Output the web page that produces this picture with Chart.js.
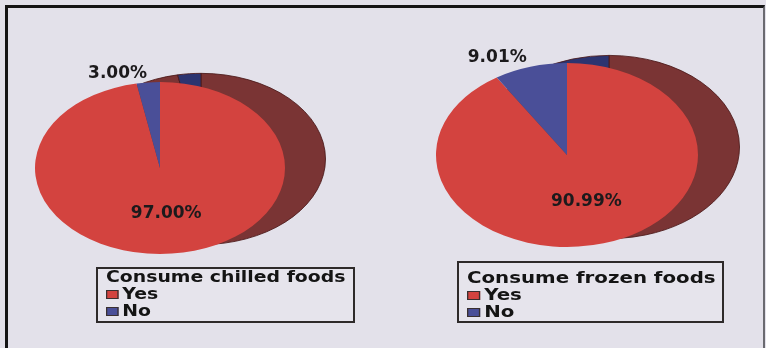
<!DOCTYPE html>
<html>
<head>
<meta charset="utf-8">
<script src="https://cdn.jsdelivr.net/npm/chart.js@4"></script>
<style>
  html, body { margin: 0; padding: 0; }
  body { width: 766px; height: 348px; background: #e3e1ea; position: relative; overflow: hidden; }
  .frame { position: absolute; left: 5px; top: 5px; width: 760px; height: 400px; box-sizing: border-box;
           border-top: 3px solid #151515; border-left: 3px solid #151515; border-right: 2px solid #6a6a70; }
  canvas { position: absolute; }
  .legend { position: absolute; box-sizing: border-box; border: 2px solid #2e2a2a; background: #e6e4ec;
            font-family: "DejaVu Sans", sans-serif; font-weight: bold; font-size: 15px; color: #141414;
            line-height: 17px; padding-left: 8px; white-space: nowrap; }
  .legend .row { transform-origin: left center; }
  .legend .swatch { display: inline-block; width: 8px; height: 7px; border: 1px solid #3a3030; margin-right: 3px;
                    vertical-align: 0px; }
</style>
</head>
<body>
<div class="frame"></div>
<canvas id="chilledBack" width="270" height="270"></canvas>
<canvas id="chilledFront" width="270" height="270"></canvas>
<canvas id="frozenBack" width="282" height="282"></canvas>
<canvas id="frozenFront" width="282" height="282"></canvas>
<div class="legend" id="chilledLegend" style="left:96px; top:267px; width:259px; height:56px;"></div>
<div class="legend" id="frozenLegend" style="left:457px; top:261px; width:267px; height:62px; padding-top:7px;"></div>
<script>
// answers shown in both pies
const answers = ['Yes', 'No'];
const chilledShares = [97.00, 3.00];
const frozenShares = [90.99, 9.01];
const chilledTitle = 'Consume chilled foods';
const frozenTitle = 'Consume frozen foods';

const faceColors = ['#d3433f', '#4a4f98'];
const sideColors = ['#7a3434', '#2c3470'];

// where each pie sits: centre, radius, vertical squash, offset of the darker back face
const layout = {
  chilled: { cx: 160, cy: 168, r: 125, k: 0.688, dx: 41, dy: -9 },
  frozen: { cx: 567, cy: 155, r: 131, k: 0.702, dx: 42, dy: -8 }
};

// squash the arcs into an ellipse around the pie centre
const ellipsePlugin = {
  id: 'ellipse',
  beforeDatasetsDraw(chart, args, opts) {
    const arc = chart.getDatasetMeta(0).data[0];
    const ctx = chart.ctx;
    ctx.save();
    ctx.translate(arc.x, arc.y);
    ctx.scale(1, opts.k);
    ctx.translate(-arc.x, -arc.y);
  },
  afterDatasetsDraw(chart) {
    chart.ctx.restore();
  }
};

// percentage labels: big slice inside, small slice outside on the top-left
const percentPlugin = {
  id: 'percent',
  afterDatasetsDraw(chart, args, opts) {
    if (!opts.show) return;
    const ctx = chart.ctx;
    const values = chart.data.datasets[0].data;
    ctx.save();
    ctx.font = 'bold 17px "DejaVu Sans"';
    ctx.fillStyle = '#1c1a1c';
    ctx.textBaseline = 'middle';
    chart.getDatasetMeta(0).data.forEach((arc, i) => {
      const mid = (arc.startAngle + arc.endAngle) / 2;
      const inside = values[i] >= 50;
      const f = inside ? 0.53 : 1.1;
      const x = arc.x + Math.cos(mid) * arc.outerRadius * f;
      const y = arc.y + Math.sin(mid) * arc.outerRadius * opts.k * f;
      ctx.textAlign = inside ? 'center' : 'right';
      ctx.fillText(values[i].toFixed(2) + '%', x, y);
    });
    ctx.restore();
  }
};

function makePie(canvasId, values, colors, place, isFront) {
  const canvas = document.getElementById(canvasId);
  const pad = 10;
  const size = place.r * 2 + pad * 2;
  const left = place.cx - place.r - pad + (isFront ? 0 : place.dx);
  const top = place.cy - place.r - pad + (isFront ? 0 : place.dy);
  canvas.width = size;
  canvas.height = size;
  canvas.style.left = left + 'px';
  canvas.style.top = top + 'px';

  return new Chart(canvas, {
    type: 'pie',
    data: {
      labels: answers,
      datasets: [{
        data: values,
        backgroundColor: colors,
        borderColor: isFront ? colors : '#4a1818',
        borderWidth: isFront ? 0 : 1
      }]
    },
    options: {
      responsive: false,
      animation: false,
      events: [],
      layout: { padding: pad },
      plugins: {
        legend: { display: false },
        tooltip: { enabled: false },
        ellipse: { k: place.k },
        percent: { show: isFront, k: place.k }
      }
    },
    plugins: [ellipsePlugin, percentPlugin]
  });
}

function buildLegend(boxId, title) {
  const box = document.getElementById(boxId);
  const rows = [`<div class="row">${title}</div>`];
  answers.forEach((answer, i) => {
    rows.push(`<div class="row"><span class="swatch" style="background:${faceColors[i]}"></span>${answer}</div>`);
  });
  box.innerHTML = rows.join('');
  // stretch the text so the title fills the box
  const titleRow = box.querySelector('.row');
  const probe = document.createElement('span');
  probe.textContent = title;
  titleRow.textContent = '';
  titleRow.appendChild(probe);
  const scale = (box.clientWidth - 8 - 7) / probe.offsetWidth;
  box.querySelectorAll('.row').forEach((row) => {
    row.style.transform = `scaleX(${scale})`;
  });
}

makePie('chilledBack', chilledShares, sideColors, layout.chilled, false);
makePie('chilledFront', chilledShares, faceColors, layout.chilled, true);
makePie('frozenBack', frozenShares, sideColors, layout.frozen, false);
makePie('frozenFront', frozenShares, faceColors, layout.frozen, true);
buildLegend('chilledLegend', chilledTitle);
buildLegend('frozenLegend', frozenTitle);
</script>
</body>
</html>
